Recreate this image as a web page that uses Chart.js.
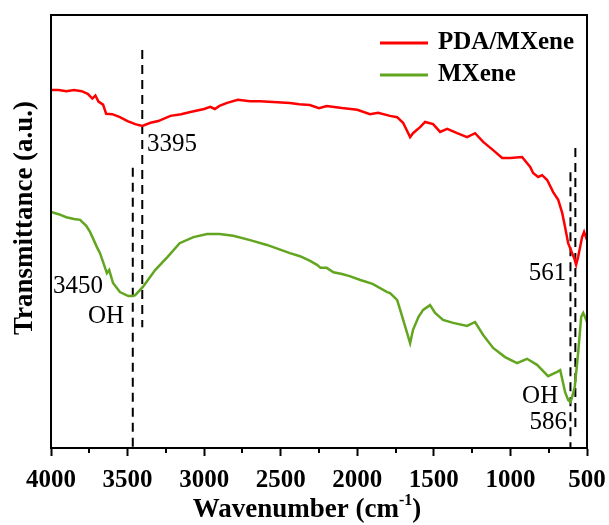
<!DOCTYPE html>
<html>
<head>
<meta charset="utf-8">
<script src="https://cdn.jsdelivr.net/npm/chart.js@4.4.1/dist/chart.umd.min.js"></script>
<style>
  html, body { margin: 0; padding: 0; background: #fff; }
  #wrap { width: 609px; height: 525px; }
</style>
</head>
<body>
<div id="wrap"><canvas id="ftir" width="609" height="525"></canvas></div>
<script>
// FTIR spectra (transmittance in arbitrary units)
const redWave = [4000,3950,3900,3850,3800,3760,3730,3710,3690,3660,3640,3600,3550,3500,3450,3404,3350,3300,3220,3150,3090,3000,2960,2930,2900,2850,2780,2700,2635,2550,2440,2380,2310,2250,2200,2100,2000,1917,1864,1786,1740,1701,1655,1636,1590,1557,1505,1459,1413,1348,1283,1231,1178,1113,1054,1002,924,871,852,819,793,760,721,688,662,643,623,597,584,571,558,532,519,500];
const redT = [82.7,82.7,82.4,82.7,82.4,81.8,80.7,81.4,80.0,79.3,77.2,77.1,76.4,75.5,74.8,74.4,75.1,75.5,76.7,77.1,77.6,78.3,78.8,78.3,79.0,79.7,80.4,80.1,80.1,79.9,79.7,79.4,79.2,78.5,79.0,78.5,78.1,77.1,77.4,76.7,76.4,75.1,71.8,72.7,74.1,75.3,74.8,73.0,73.7,72.7,71.8,72.7,70.7,68.8,67.0,67.0,67.2,64.9,63.5,62.6,63.0,61.9,59.1,57.3,54.3,51.0,47.3,45.0,43.9,42.3,44.1,48.7,49.9,48.0];

const greenWave = [4000,3950,3900,3850,3810,3770,3745,3700,3680,3635,3620,3595,3550,3495,3466,3450,3400,3320,3240,3160,3070,2980,2900,2810,2700,2590,2440,2374,2308,2263,2240,2200,2155,2100,2050,1980,1900,1805,1786,1740,1720,1690,1655,1636,1600,1570,1525,1492,1440,1374,1283,1231,1178,1113,1035,957,892,826,754,695,675,643,623,608,597,580,558,538,525,510,500];
const greenT = [54.5,54.0,53.3,52.9,52.7,51.3,49.9,46.4,45.0,40.4,41.1,38.1,36.0,35.1,35.1,35.3,37.2,41.1,44.1,47.3,48.7,49.4,49.4,49.0,48.0,46.9,45.0,44.3,43.2,42.3,41.6,41.6,40.6,40.2,39.7,38.8,37.9,36.0,35.8,34.2,31.9,28.4,24.2,27.3,30.3,31.9,33.0,31.2,29.6,28.9,28.2,29.1,26.1,23.1,21.0,19.6,20.6,19.2,16.6,17.6,18.0,12.9,11.1,10.6,11.8,14.1,21.9,30.3,31.2,30.0,29.1];

// dashed peak markers (where they sit in the figure)
const markWave = [3404, 3466, 576, 608];
const markTop = [91.9, 64.7, 69.3, 63.7];
const markBottom = [27.9, 0, 4.8, 0];

// peak labels
const noteText = ["3395", "3450", "OH", "561", "OH", "586"];
const noteWave = [3373, 3987, 3758, 636, 688, 630];
const noteT = [70.0, 37.2, 30.3, 40.2, 11.8, 6.0];
const noteAlign = ["left", "left", "left", "right", "right", "right"];

const xTicks = [4000, 3500, 3000, 2500, 2000, 1500, 1000, 500];
const xMinorTicks = [3750, 3250, 2750, 2250, 1750, 1250, 750];

const SERIF = '"Liberation Serif", "Times New Roman", serif';

const toPts = (xs, ys) => xs.map((x, i) => ({ x: x, y: ys[i] }));

const datasets = [
  { label: "PDA/MXene", data: toPts(redWave, redT), borderColor: "#FF0000", borderWidth: 2.5, pointRadius: 0, tension: 0 },
  { label: "MXene", data: toPts(greenWave, greenT), borderColor: "#62A51F", borderWidth: 2.5, pointRadius: 0, tension: 0 }
];
markWave.forEach((w, i) => {
  datasets.push({
    label: "",
    data: [{ x: w, y: markTop[i] }, { x: w, y: markBottom[i] }],
    borderColor: "#000", borderWidth: 2, borderDash: [9, 6], pointRadius: 0
  });
});

const deco = {
  id: "deco",
  afterDatasetsDraw(chart) {
    const ctx = chart.ctx, xs = chart.scales.x, ys = chart.scales.y;
    ctx.save();
    ctx.fillStyle = "#000";
    ctx.font = "25px " + SERIF;
    ctx.textBaseline = "middle";
    noteText.forEach((t, i) => {
      ctx.textAlign = noteAlign[i];
      ctx.fillText(t, xs.getPixelForValue(noteWave[i]), ys.getPixelForValue(noteT[i]));
    });
    ctx.restore();
  },
  afterDraw(chart) {
    const ctx = chart.ctx, a = chart.chartArea, xs = chart.scales.x;
    ctx.save();
    // frame
    ctx.strokeStyle = "#000";
    ctx.lineWidth = 2;
    ctx.strokeRect(a.left, a.top, a.right - a.left, a.bottom - a.top);
    // minor ticks
    xMinorTicks.forEach(v => {
      const px = Math.round(xs.getPixelForValue(v));
      ctx.beginPath();
      ctx.moveTo(px, a.bottom);
      ctx.lineTo(px, a.bottom + 5);
      ctx.stroke();
    });
    // legend
    ctx.font = "bold 25px " + SERIF;
    ctx.textBaseline = "middle";
    ctx.textAlign = "left";
    chart.data.datasets.filter(d => d.label).forEach((d, i) => {
      const y = a.top + 28 + i * 32;
      ctx.strokeStyle = d.borderColor;
      ctx.lineWidth = 3;
      ctx.beginPath();
      ctx.moveTo(a.right - 207, y);
      ctx.lineTo(a.right - 159, y);
      ctx.stroke();
      ctx.fillStyle = "#000";
      ctx.fillText(d.label, a.right - 149, y);
    });
    // x title with superscript
    const big = "bold 27px " + SERIF, small = "bold 16px " + SERIF;
    ctx.font = big;
    const t1 = "Wavenumber (cm", t3 = ")";
    const w1 = ctx.measureText(t1).width, w3 = ctx.measureText(t3).width;
    ctx.font = small;
    const w2 = ctx.measureText("-1").width;
    let x0 = 307 - (w1 + w2 + w3) / 2;
    const ty = 510;
    ctx.font = big;
    ctx.fillText(t1, x0, ty);
    ctx.font = small;
    ctx.fillText("-1", x0 + w1, ty - 9);
    ctx.font = big;
    ctx.fillText(t3, x0 + w1 + w2, ty);
    // y title
    ctx.translate(25, 218);
    ctx.rotate(-Math.PI / 2);
    ctx.textAlign = "center";
    ctx.fillText("Transmittance (a.u.)", 0, 0);
    ctx.restore();
  }
};

new Chart(document.getElementById("ftir"), {
  type: "line",
  data: { datasets: datasets },
  options: {
    responsive: false,
    animation: false,
    layout: { padding: { top: 15, right: 22, left: 0, bottom: 0 } },
    plugins: { legend: { display: false }, tooltip: { enabled: false } },
    scales: {
      x: {
        type: "linear",
        reverse: true,
        min: 500,
        max: 4000,
        afterFit: s => { s.height = 77; s.paddingLeft = 0; s.paddingRight = 0; },
        afterBuildTicks: s => { s.ticks = xTicks.map(v => ({ value: v })); },
        ticks: {
          autoSkip: false,
          maxRotation: 0,
          padding: 10,
          color: "#000",
          font: { family: SERIF, size: 25, weight: "bold" },
          callback: v => String(v)
        },
        grid: { drawOnChartArea: false, tickLength: 8, tickWidth: 2, tickColor: "#000" },
        border: { display: true, color: "#000", width: 2 }
      },
      y: {
        min: 0,
        max: 100,
        afterFit: s => { s.width = 51; },
        ticks: { display: false },
        grid: { display: false },
        border: { display: true, color: "#000", width: 2 }
      }
    }
  },
  plugins: [deco]
});
</script>
</body>
</html>
